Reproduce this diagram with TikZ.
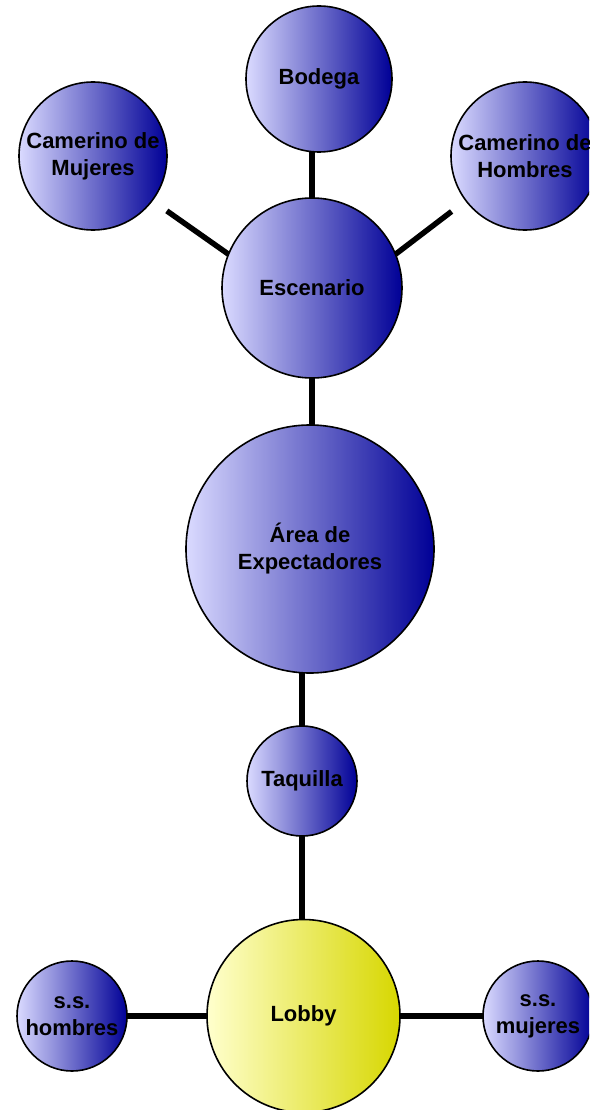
\documentclass[tikz,border=0pt]{standalone}
\usepackage{fontspec}
\setmainfont{Liberation Sans}
\definecolor{bluelight}{RGB}{218,218,255}
\definecolor{bluedark}{RGB}{0,0,150}
\definecolor{yellowlight}{RGB}{255,255,205}
\definecolor{yellowdark}{RGB}{215,215,0}
\tikzset{
  room/.style={circle, draw=black, line width=1.6pt, inner sep=0pt, outer sep=0pt,
    left color=bluelight, right color=bluedark, align=center,
    font=\bfseries\fontsize{22}{27}\selectfont, text=black},
  lobbyroom/.style={room, left color=yellowlight, right color=yellowdark},
  link/.style={line width=5.5pt, black}
}
\begin{document}
\begin{tikzpicture}[x=1pt,y=-1pt]
\useasboundingbox (0,0) rectangle (589,1110);
\clip (0,0) rectangle (589,1110);
\node[room, minimum size=146pt] (bod) at (319,79) {Bodega};
\node[room, minimum size=148pt] (cm) at (93,156) {Camerino de\\Mujeres};
\node[room, minimum size=148pt] (ch) at (525,156) {Camerino de\\Hombres};
\node[room, minimum size=180pt] (esc) at (312,288) {Escenario};
\node[room, minimum size=248pt] (area) at (310,549) {Área de\\Expectadores};
\node[room, minimum size=110pt] (taq) at (302,781) {Taquilla};
\node[lobbyroom, minimum size=193pt] (lobby) at (303.5,1016) {Lobby};
\node[room, minimum size=110pt] (ssh) at (72,1016) {s.s.\\hombres};
\node[room, minimum size=110pt] (ssm) at (538,1016) {s.s.\\mujeres};
\draw[link] (bod.south -| esc.north) -- (esc.north);
\draw[link, shorten <=18pt] (cm.-37) -- (esc.158);
\draw[link, shorten <=18pt] (ch.-143) -- (esc.22);
\draw[link] (esc.south) -- (esc.south |- area.north);
\draw[link] (taq.north) -- (taq.north |- area.south);
\draw[link] (taq.south) -- (taq.south |- lobby.north);
\draw[link] (lobby) -- (ssh);
\draw[link] (lobby) -- (ssm);
\end{tikzpicture}
\end{document}
